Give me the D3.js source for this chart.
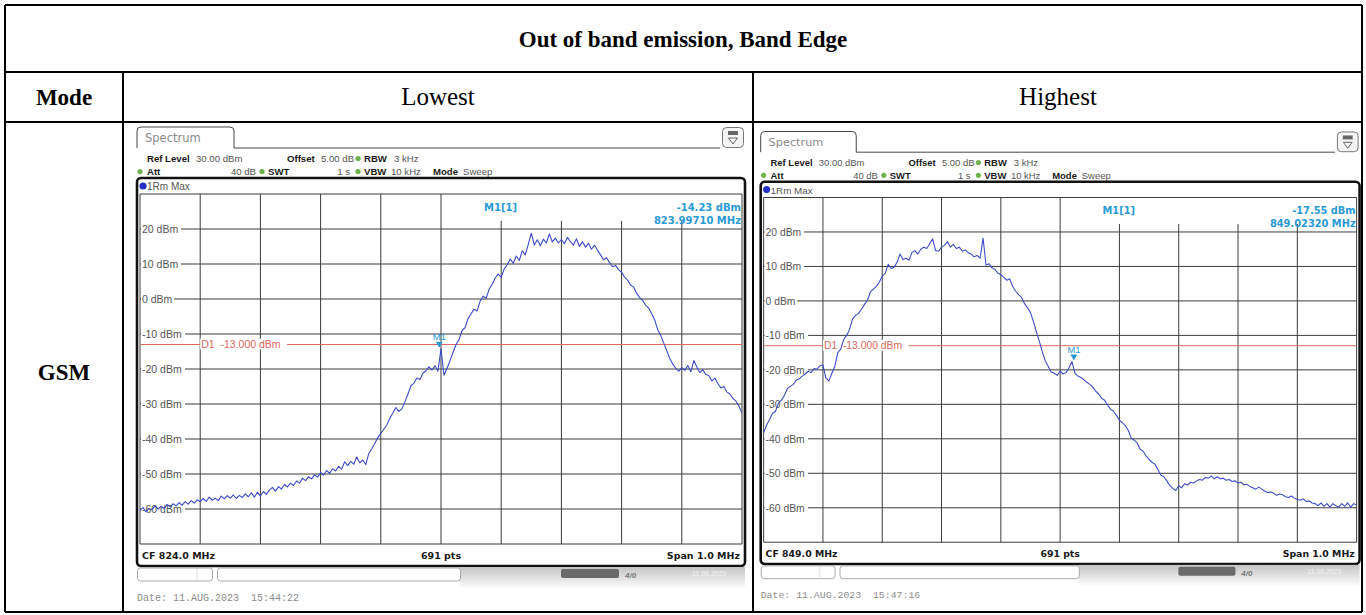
<!DOCTYPE html>
<html>
<head>
<meta charset="utf-8">
<script src="https://cdn.jsdelivr.net/npm/d3@7"></script>
<style>
  body { margin: 0; background: #fff; }
  svg { display: block; }
</style>
</head>
<body>
<svg id="chart" width="1366" height="615"></svg>
<script>
'use strict';

// table text
var tableTitle = "Out of band emission, Band Edge";
var modes = ["GSM"];
var channels = ["Lowest", "Highest"];

// analyzer settings, one entry per screen
var centerFreqs = [824.0, 849.0];
var spanMHz = 1.0;
var sweepPoints = 691;
var yTicks = [20, 10, 0, -10, -20, -30, -40, -50, -60];
var yDomain = [-70, 30];
var displayLine = -13.0;
var markerFreqs = [823.99710, 849.02320];
var markerLevels = [-14.23, -17.55];
var dates = ["Date: 11.AUG.2023  15:44:22", "Date: 11.AUG.2023  15:47:16"];

// trace values (dBm), evenly spaced over the span
var lowestTrace = [
  -60.4, -59.6, -60.8, -59.9, -60.2, -59.1, -60.0, -59.3, -59.8, -58.7,
  -59.4, -58.5, -59.1, -58.2, -58.9, -57.9, -58.6, -57.6, -58.3, -57.4,
  -57.9, -57.0, -57.8, -56.6, -57.5, -56.9, -57.6, -56.3, -57.1, -56.2,
  -56.9, -56.0, -57.0, -56.1, -56.7, -55.7, -56.5, -55.4, -56.6, -55.2,
  -56.3, -55.0, -55.8, -54.6, -53.8, -54.9, -53.6, -54.3, -53.0, -53.7,
  -52.6, -53.3, -52.0, -52.6, -51.2, -51.9, -50.8, -51.4, -50.2, -50.9,
  -49.6, -50.3, -49.0, -49.8, -48.5, -49.1, -47.8, -48.6, -46.5, -47.6,
  -46.4, -47.2, -45.1, -46.8, -46.0, -47.3, -44.2, -42.8, -41.3, -39.6,
  -38.4, -37.2, -36.0, -34.1, -32.6, -31.0, -32.1, -31.4, -29.4, -27.2,
  -24.8, -24.1, -22.6, -23.0, -21.2, -20.5, -19.4, -20.3, -19.1, -20.6,
  -14.2, -21.8, -19.8, -17.6, -15.2, -13.0, -11.6, -9.0, -8.2, -5.6,
  -4.2, -2.9, -3.4, -0.6, 0.8, 0.2, 2.8, 4.2, 6.0, 7.1,
  6.2, 8.6, 9.8, 11.4, 10.2, 12.3, 11.0, 13.8, 12.6, 15.6,
  18.8, 15.4, 16.9, 15.2, 17.1, 16.0, 18.6, 16.3, 17.4, 16.0,
  17.0, 15.8, 17.6, 16.4, 15.4, 17.2, 15.0, 16.4, 14.8, 15.9,
  14.2, 15.4, 13.9, 12.6, 11.2, 11.8, 10.4, 9.2, 9.6, 8.4,
  7.6, 6.2, 5.4, 4.0, 3.4, 1.6, 0.4, -0.4, -1.8, -2.6,
  -4.2, -6.0, -8.8, -10.4, -12.6, -14.8, -17.0, -18.6, -19.8, -20.6,
  -19.6, -20.4, -19.0, -20.8, -17.6, -19.4, -21.0, -20.2, -21.6, -21.9,
  -23.4, -22.6, -24.2, -25.4, -25.0, -26.6, -27.2, -28.4, -29.2, -30.6,
  -32.6
];
var highestTrace = [
  -38.2, -36.0, -34.4, -32.6, -32.0, -29.6, -28.8, -27.4, -25.4, -24.8,
  -24.2, -23.0, -22.6, -21.8, -21.2, -20.4, -20.8, -19.6, -19.8, -18.8,
  -18.6, -22.4, -23.2, -21.0, -19.0, -15.0, -14.0, -11.2, -10.0, -8.2,
  -5.2, -4.2, -3.6, -2.4, -1.0, 0.2, 2.6, 3.4, 4.2, 5.4,
  7.2, 8.0, 10.6, 9.4, 9.8, 11.2, 13.6, 12.0, 12.4, 11.8,
  14.0, 14.6, 13.6, 15.0, 15.6, 15.2, 16.6, 18.0, 14.6, 14.4,
  15.6, 16.2, 17.2, 15.6, 16.4, 15.2, 15.6, 14.4, 14.8, 14.0,
  13.6, 12.8, 13.2, 12.4, 18.2, 10.4, 10.8, 9.6, 9.2, 8.0,
  7.6, 6.8, 6.0, 6.4, 4.2, 2.8, 1.8, 1.0, -0.8, -2.0,
  -3.4, -6.0, -9.0, -11.8, -14.8, -17.4, -19.0, -20.6, -21.0, -21.6,
  -20.4, -21.2, -20.8, -19.4, -17.6, -21.0, -21.8, -22.2, -22.8, -23.6,
  -24.2, -25.0, -26.2, -27.0, -28.2, -28.8, -30.2, -31.4, -32.0, -33.2,
  -34.6, -35.4, -36.2, -37.6, -39.8, -40.4, -41.2, -43.0, -43.6, -45.0,
  -46.0, -46.8, -47.4, -49.0, -50.6, -51.0, -52.2, -53.6, -54.4, -55.0,
  -53.6, -54.2, -53.0, -53.4, -52.6, -52.8, -52.2, -51.8, -52.0, -51.2,
  -51.4, -50.8, -51.6, -51.0, -51.6, -51.4, -52.0, -51.8, -52.4, -52.2,
  -52.8, -52.6, -53.4, -53.2, -53.8, -54.2, -54.6, -54.0, -54.6, -55.2,
  -55.6, -55.4, -55.8, -56.4, -56.0, -56.2, -56.8, -57.0, -56.6, -57.2,
  -57.6, -57.8, -57.4, -58.2, -58.0, -58.6, -58.8, -59.4, -58.6, -59.6,
  -58.8, -59.8, -58.8, -59.4, -59.8, -58.8, -59.6, -58.6, -59.8, -58.8,
  -59.2
];
var traces = [lowestTrace, highestTrace];

var SERIF = "'Liberation Serif', 'Times New Roman', serif";
var SANS = "'Liberation Sans', Arial, sans-serif";
var WIDE = "'DejaVu Sans', Verdana, sans-serif";
var MONO = "'Liberation Mono', 'DejaVu Sans Mono', monospace";

var traceColor = "#3d4bcb";
var markerColor = "#2a9ad6";
var limitColor = "#e0675c";
var gridColor = "#3a3a3a";

var svg = d3.select("#chart");

// ---- table ----
function drawTable() {
    var t = svg.append("g").attr("class", "table");
    var lines = [
        [5, 5, 1362, 5], [5, 612, 1362, 612], [5, 5, 5, 612], [1362, 5, 1362, 612],
        [5, 72, 1362, 72], [5, 122, 1362, 122],
        [123, 72, 123, 612], [753, 72, 753, 612]
    ];
    t.selectAll("line").data(lines).enter().append("line")
        .attr("x1", function (d) { return d[0]; })
        .attr("y1", function (d) { return d[1]; })
        .attr("x2", function (d) { return d[2]; })
        .attr("y2", function (d) { return d[3]; })
        .attr("stroke", "#000").attr("stroke-width", 2);

    t.append("text").attr("x", 683).attr("y", 47)
        .attr("text-anchor", "middle").attr("font-family", SERIF)
        .attr("font-weight", "bold").attr("font-size", 23)
        .text(tableTitle);
    t.append("text").attr("x", 64).attr("y", 105)
        .attr("text-anchor", "middle").attr("font-family", SERIF)
        .attr("font-weight", "bold").attr("font-size", 23)
        .text("Mode");
    t.selectAll("text.channel").data(channels).enter().append("text")
        .attr("class", "channel")
        .attr("x", function (d, i) { return i === 0 ? 438 : 1058; })
        .attr("y", 105)
        .attr("text-anchor", "middle").attr("font-family", SERIF)
        .attr("font-size", 25)
        .text(function (d) { return d; });
    t.append("text").attr("x", 64).attr("y", 380)
        .attr("text-anchor", "middle").attr("font-family", SERIF)
        .attr("font-weight", "bold").attr("font-size", 23)
        .text(modes[0]);
}

// ---- one analyzer screenshot, drawn in local coords ----
function drawScreen(idx, ox, oy, k) {
    var cf = centerFreqs[idx];
    var data = traces[idx];
    var g = svg.append("g")
        .attr("transform", "translate(" + ox + "," + oy + ") scale(" + k + ")");

    var x = d3.scaleLinear().domain([cf - spanMHz / 2, cf + spanMHz / 2]).range([3, 605]);
    var y = d3.scaleLinear().domain(yDomain).range([417, 67]);

    // tab
    g.append("path")
        .attr("d", "M0,21 L0,4 Q0,0 4,0 L93,0 Q97,0 97,4 L97,21 L583,21")
        .attr("fill", "none").attr("stroke", "#444").attr("stroke-width", 1);
    g.append("text").attr("x", 8).attr("y", 15)
        .attr("font-family", WIDE).attr("font-size", 11.5).attr("fill", "#8a8a8a")
        .text("Spectrum");

    // menu icon
    var ic = g.append("g").attr("transform", "translate(585,0)");
    ic.append("rect").attr("x", 0.5).attr("y", 0.5).attr("width", 21).attr("height", 20).attr("rx", 4)
        .attr("fill", "#f4f4f4").attr("stroke", "#777");
    ic.append("rect").attr("x", 6).attr("y", 4).attr("width", 10).attr("height", 4)
        .attr("fill", "#666");
    ic.append("path").attr("d", "M6.5,11 L15.5,11 L11,17 Z")
        .attr("fill", "none").attr("stroke", "#555").attr("stroke-width", 0.9);

    // settings lines
    var info = [
        { x: 10, y: 35, t: "Ref Level", b: true },
        { x: 59, y: 35, t: "30.00 dBm" },
        { x: 150, y: 35, t: "Offset", b: true },
        { x: 184, y: 35, t: "5.00 dB" },
        { x: 227, y: 35, t: "RBW", b: true },
        { x: 257, y: 35, t: "3 kHz" },
        { x: 10, y: 48, t: "Att", b: true },
        { x: 119, y: 48, t: "40 dB", a: "end" },
        { x: 131, y: 48, t: "SWT", b: true },
        { x: 213, y: 48, t: "1 s", a: "end" },
        { x: 227, y: 48, t: "VBW", b: true },
        { x: 254, y: 48, t: "10 kHz" },
        { x: 296, y: 48, t: "Mode", b: true },
        { x: 326, y: 48, t: "Sweep" }
    ];
    g.selectAll("text.info").data(info).enter().append("text")
        .attr("class", "info")
        .attr("x", function (d) { return d.x; })
        .attr("y", function (d) { return d.y; })
        .attr("text-anchor", function (d) { return d.a || "start"; })
        .attr("font-family", SANS).attr("font-size", 9.6)
        .attr("font-weight", function (d) { return d.b ? "bold" : "normal"; })
        .attr("fill", function (d) { return d.b ? "#1a1a1a" : "#555"; })
        .text(function (d) { return d.t; });
    var dots = [[221, 31.5], [3, 44.5], [125, 44.5], [221, 44.5]];
    g.selectAll("circle.led").data(dots).enter().append("circle")
        .attr("class", "led")
        .attr("cx", function (d) { return d[0]; })
        .attr("cy", function (d) { return d[1]; })
        .attr("r", 2.6).attr("fill", "#6fb24f");

    // frame
    g.append("rect").attr("x", 0).attr("y", 51).attr("width", 608).attr("height", 388).attr("rx", 4)
        .attr("fill", "#fff").attr("stroke", "#111").attr("stroke-width", 2.6);
    g.append("circle").attr("cx", 6).attr("cy", 59).attr("r", 3.6).attr("fill", "#2430c8");
    g.append("text").attr("x", 10).attr("y", 63)
        .attr("font-family", SANS).attr("font-size", 10).attr("fill", "#555")
        .text("1Rm Max");

    // grid
    var grid = g.append("g").attr("class", "grid");
    var xt = d3.range(0, 11).map(function (i) { return cf - spanMHz / 2 + i * spanMHz / 10; });
    grid.selectAll("line.v").data(xt).enter().append("line")
        .attr("class", "v")
        .attr("x1", function (d) { return x(d); })
        .attr("x2", function (d) { return x(d); })
        .attr("y1", function (d, i) { return (i >= 6 && i <= 9) ? y(22.3) : y(yDomain[1]); })
        .attr("y2", y(yDomain[0]))
        .attr("stroke", gridColor).attr("stroke-width", 1);
    var yt = [yDomain[1]].concat(yTicks).concat([yDomain[0]]);
    grid.selectAll("line.h").data(yt).enter().append("line")
        .attr("class", "h")
        .attr("x1", x.range()[0]).attr("x2", x.range()[1])
        .attr("y1", function (d) { return y(d); })
        .attr("y2", function (d) { return y(d); })
        .attr("stroke", gridColor).attr("stroke-width", 1);

    // y labels with white background
    var lab = g.selectAll("g.ylab").data(yTicks).enter().append("g")
        .attr("class", "ylab")
        .attr("transform", function (d) { return "translate(0," + y(d) + ")"; });
    lab.append("rect").attr("x", 4).attr("y", -6).attr("height", 12)
        .attr("width", function (d) { return d <= -10 ? 44 : (d === 0 ? 33 : 40); })
        .attr("fill", "#fff");
    lab.append("text").attr("x", 5).attr("y", 3.8)
        .attr("font-family", SANS).attr("font-size", 10.5).attr("fill", "#555")
        .text(function (d) { return d + " dBm"; });

    // display line D1
    g.append("line")
        .attr("x1", x.range()[0]).attr("x2", x.range()[1])
        .attr("y1", y(displayLine)).attr("y2", y(displayLine))
        .attr("stroke", limitColor).attr("stroke-width", 1.2);
    var d1x = x(xt[1]);
    g.append("rect").attr("x", d1x).attr("y", y(displayLine) - 6).attr("width", 87).attr("height", 11)
        .attr("fill", "#fff");
    g.append("text").attr("x", d1x + 1).attr("y", y(displayLine) + 3.8)
        .attr("font-family", SANS).attr("font-size", 10.5).attr("fill", limitColor)
        .attr("xml:space", "preserve")
        .text("D1  -13.000 dBm");

    // trace
    var clipId = "clip" + idx;
    g.append("clipPath").attr("id", clipId).append("rect")
        .attr("x", x.range()[0]).attr("y", y(yDomain[1]))
        .attr("width", x.range()[1] - x.range()[0]).attr("height", y(yDomain[0]) - y(yDomain[1]));
    var n = data.length;
    var line = d3.line()
        .x(function (d, i) { return x(cf - spanMHz / 2 + i * spanMHz / (n - 1)); })
        .y(function (d) { return y(d); });
    g.append("path").datum(data)
        .attr("clip-path", "url(#" + clipId + ")")
        .attr("d", line)
        .attr("fill", "none").attr("stroke", traceColor).attr("stroke-width", 1.1)
        .attr("stroke-linejoin", "round");

    // marker
    var mx = x(markerFreqs[idx]), my = y(markerLevels[idx]);
    g.append("path")
        .attr("d", "M" + (mx - 3.5) + "," + (my - 7) + " L" + (mx + 3.5) + "," + (my - 7) + " L" + mx + "," + (my - 1) + " Z")
        .attr("fill", markerColor);
    g.append("text").attr("x", mx).attr("y", my - 9)
        .attr("text-anchor", "middle").attr("font-family", SANS).attr("font-size", 9.5)
        .attr("fill", markerColor).text("M1");

    // marker readout
    var mi = g.append("g").attr("font-family", WIDE).attr("font-size", 10)
        .attr("font-weight", "bold").attr("fill", markerColor);
    mi.append("text").attr("x", 347).attr("y", 84).text("M1[1]");
    mi.append("text").attr("x", 604).attr("y", 84).attr("text-anchor", "end")
        .text(markerLevels[idx].toFixed(2) + " dBm");
    mi.append("text").attr("x", 604).attr("y", 97).attr("text-anchor", "end")
        .text(markerFreqs[idx].toFixed(5) + " MHz");

    // footer
    var ft = g.append("g").attr("font-family", WIDE).attr("font-size", 9.5)
        .attr("font-weight", "bold").attr("fill", "#1a1a1a");
    ft.append("text").attr("x", 5).attr("y", 432).text("CF " + cf.toFixed(1) + " MHz");
    ft.append("text").attr("x", 304).attr("y", 432).attr("text-anchor", "middle").text(sweepPoints + " pts");
    ft.append("text").attr("x", 603).attr("y", 432).attr("text-anchor", "end")
        .text("Span " + spanMHz.toFixed(1) + " MHz");

    // status bar
    var gradId = "grad" + idx;
    var grad = g.append("linearGradient").attr("id", gradId)
        .attr("x1", 0).attr("y1", 0).attr("x2", 0).attr("y2", 1);
    grad.append("stop").attr("offset", "0%").attr("stop-color", "#c4c4c4");
    grad.append("stop").attr("offset", "100%").attr("stop-color", "#ffffff");
    g.append("rect").attr("x", 323).attr("y", 440).attr("width", 285).attr("height", 22)
        .attr("fill", "url(#" + gradId + ")");
    g.append("rect").attr("x", 0.5).attr("y", 441).attr("width", 75).attr("height", 13).attr("rx", 3)
        .attr("fill", "#fff").attr("stroke", "#aaa");
    g.append("line").attr("x1", 60).attr("x2", 60).attr("y1", 442).attr("y2", 454).attr("stroke", "#ddd");
    g.append("rect").attr("x", 80.5).attr("y", 441).attr("width", 243).attr("height", 13).attr("rx", 3)
        .attr("fill", "#fff").attr("stroke", "#aaa");
    g.append("rect").attr("x", 424).attr("y", 442).attr("width", 58).attr("height", 9).attr("rx", 2)
        .attr("fill", "#6a6a6a");
    g.append("text").attr("x", 488).attr("y", 451).attr("font-family", SANS).attr("font-size", 8)
        .attr("font-style", "italic").attr("font-weight", "bold").attr("fill", "#777").text("4/0");
    g.append("text").attr("x", 555).attr("y", 449).attr("font-family", SANS).attr("font-size", 7)
        .attr("fill", "#f4f4f4").text("11.08.2023");

    // date stamp
    g.append("text").attr("x", 0).attr("y", 474)
        .attr("font-family", MONO).attr("font-size", 10).attr("fill", "#8c8c8c")
        .attr("xml:space", "preserve")
        .text(dates[idx]);
}

drawTable();
drawScreen(0, 137, 127, 1);
drawScreen(1, 760.7, 131.5, 0.985);
</script>
</body>
</html>
